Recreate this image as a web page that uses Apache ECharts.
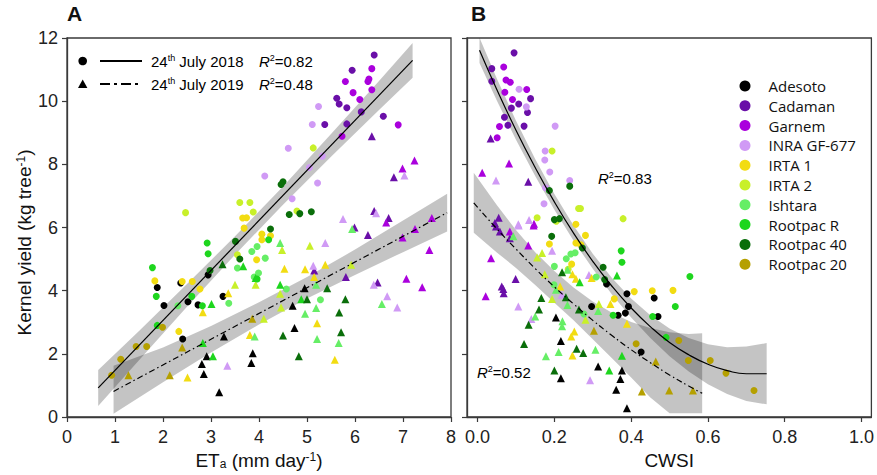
<!DOCTYPE html>
<html><head><meta charset="utf-8">
<script src="https://cdn.jsdelivr.net/npm/echarts@6/dist/echarts.min.js"></script>
<style>html,body{margin:0;padding:0;background:#fff}#c{width:877px;height:475px}</style>
</head><body><div id="c"></div>
<script>
// ---------- data ----------
const cultivars = ['Adesoto','Cadaman','Garnem','INRA GF-677','IRTA 1','IRTA 2','Ishtara','Rootpac R','Rootpac 40','Rootpac 20'];
const cultivarColors = ['#000000','#6a0fa8','#aa00dd','#d09af5','#f2dc12','#c8f02a','#66ee66','#1ed61e','#0a6e0a','#b5a000'];

const etaTicks = [0,1,2,3,4,5,6,7,8];
const yieldTicks = [0,2,4,6,8,10,12];
const cwsiTicks = [0,0.2,0.4,0.6,0.8,1.0];

// Panel A: ETa vs yield, 24th July 2018 (circles)
const etaYield2018 = [
 [6.40,11.46,'Cadaman'],[5.94,10.98,'Cadaman'],[5.62,10.09,'Cadaman'],[5.67,9.91,'Cadaman'],[5.83,9.79,'Cadaman'],[6.13,9.66,'Cadaman'],[6.59,9.52,'Cadaman'],[5.83,9.28,'Cadaman'],[5.37,9.26,'Cadaman'],
 [6.35,11.03,'Garnem'],[5.80,10.62,'Garnem'],[6.27,10.62,'Garnem'],[6.29,10.70,'Garnem'],[6.35,10.36,'Garnem'],[5.96,10.27,'Garnem'],[6.10,10.05,'Garnem'],[6.90,9.25,'Garnem'],[5.73,8.89,'Garnem'],
 [5.11,9.26,'INRA GF-677'],[5.24,9.83,'INRA GF-677'],[4.61,8.51,'INRA GF-677'],[5.32,8.26,'INRA GF-677'],[5.05,7.90,'INRA GF-677'],[4.12,7.63,'INRA GF-677'],[5.22,7.41,'INRA GF-677'],[4.69,6.91,'INRA GF-677'],
 [5.13,8.52,'IRTA 2'],[3.60,6.79,'IRTA 2'],[3.81,6.79,'IRTA 2'],[3.88,6.49,'IRTA 2'],[4.79,6.52,'IRTA 2'],[2.47,6.47,'IRTA 2'],[3.55,5.14,'IRTA 2'],
 [3.74,6.31,'IRTA 1'],[3.66,6.30,'IRTA 1'],[3.69,5.98,'IRTA 1'],[4.06,5.79,'IRTA 1'],[4.24,5.74,'IRTA 1'],[4.06,5.61,'IRTA 1'],[1.83,4.31,'IRTA 1'],[2.40,4.29,'IRTA 1'],[2.61,4.29,'IRTA 1'],[2.77,4.05,'IRTA 1'],[2.33,2.71,'IRTA 1'],[3.95,4.98,'IRTA 1'],
 [4.50,7.45,'Rootpac 40'],[4.46,7.36,'Rootpac 40'],[4.63,6.41,'Rootpac 40'],[4.85,6.44,'Rootpac 40'],[5.09,6.50,'Rootpac 40'],[3.51,5.56,'Rootpac 40'],[3.60,5.00,'Rootpac 40'],[2.98,4.64,'Rootpac 40'],[4.24,5.95,'Rootpac 40'],
 [2.92,5.51,'Rootpac R'],[2.94,5.17,'Rootpac R'],[1.78,4.73,'Rootpac R'],[1.86,3.82,'Rootpac R'],[2.60,3.82,'Rootpac R'],[2.82,3.52,'Rootpac R'],[1.88,2.90,'Rootpac R'],[4.20,5.61,'Rootpac R'],[3.96,4.37,'Rootpac R'],
 [3.55,4.72,'Ishtara'],[3.37,3.60,'Ishtara'],[2.31,3.52,'Ishtara'],[3.96,5.40,'Ishtara'],[4.13,5.03,'Ishtara'],[3.99,4.56,'Ishtara'],[4.57,4.05,'Ishtara'],[5.28,3.71,'Ishtara'],[3.85,5.24,'Ishtara'],[3.90,4.43,'Ishtara'],
 [1.88,4.10,'Adesoto'],[2.02,3.53,'Adesoto'],[2.37,4.24,'Adesoto'],[2.94,4.50,'Adesoto'],[2.52,3.65,'Adesoto'],[2.73,3.55,'Adesoto'],[3.25,3.82,'Adesoto'],[2.41,2.47,'Adesoto'],
 [1.99,2.84,'Rootpac 20'],[1.44,2.23,'Rootpac 20'],[1.66,2.23,'Rootpac 20'],[1.12,1.83,'Rootpac 20'],[0.93,1.32,'Rootpac 20']
];
// Panel A: ETa vs yield, 24th July 2019 (triangles)
const etaYield2019 = [
 [6.35,8.89,'Cadaman'],[6.81,7.59,'Cadaman'],[6.40,6.52,'Cadaman'],[6.70,6.30,'Cadaman'],[5.99,6.00,'Cadaman'],[6.27,5.76,'Cadaman'],[5.15,4.64,'Cadaman'],[5.81,4.43,'Cadaman'],[6.47,4.26,'Cadaman'],
 [7.24,8.12,'Garnem'],[6.99,7.87,'Garnem'],[6.65,6.16,'Garnem'],[6.99,5.68,'Garnem'],[7.25,5.95,'Garnem'],[7.60,6.30,'Garnem'],[7.55,5.29,'Garnem'],[7.07,4.38,'Garnem'],[7.40,4.11,'Garnem'],
 [7.03,7.65,'INRA GF-677'],[6.44,6.45,'INRA GF-677'],[5.75,6.27,'INRA GF-677'],[5.38,5.51,'INRA GF-677'],[5.13,4.79,'INRA GF-677'],[6.39,4.19,'INRA GF-677'],[6.67,3.82,'INRA GF-677'],[6.88,3.47,'INRA GF-677'],[3.34,1.62,'INRA GF-677'],
 [5.94,5.95,'Ishtara'],[4.44,5.51,'Ishtara'],[5.19,4.19,'Ishtara'],[4.96,3.27,'Ishtara'],[5.19,3.45,'Ishtara'],[6.56,3.58,'Ishtara'],[5.21,2.47,'Ishtara'],[5.66,2.34,'Ishtara'],[3.91,2.55,'Ishtara'],
 [4.48,5.29,'IRTA 2'],[5.06,5.42,'IRTA 2'],[5.92,4.82,'IRTA 2'],[4.44,3.90,'IRTA 2'],[4.46,3.47,'IRTA 2'],[4.10,3.11,'IRTA 2'],[3.93,4.19,'IRTA 2'],[3.50,4.19,'IRTA 2'],
 [4.53,4.69,'IRTA 1'],[4.96,4.68,'IRTA 1'],[5.38,4.82,'IRTA 1'],[5.15,4.43,'IRTA 1'],[5.21,2.97,'IRTA 1'],[5.58,1.81,'IRTA 1'],[3.36,3.92,'IRTA 1'],[2.83,3.32,'IRTA 1'],[3.81,2.60,'IRTA 1'],[2.51,1.25,'IRTA 1'],
 [4.44,4.19,'Rootpac R'],[4.88,3.73,'Rootpac R'],[3.67,4.77,'Rootpac R'],[3.93,4.40,'Rootpac R'],[3.01,3.58,'Rootpac R'],[2.83,2.34,'Rootpac R'],[3.04,1.92,'Rootpac R'],
 [5.42,4.08,'Rootpac 40'],[5.00,3.73,'Rootpac 40'],[5.80,3.73,'Rootpac 40'],[5.67,3.31,'Rootpac 40'],[5.71,2.68,'Rootpac 40'],[4.50,2.58,'Rootpac 40'],[4.83,1.92,'Rootpac 40'],[3.24,4.84,'Rootpac 40'],
 [4.95,4.08,'Adesoto'],[4.70,3.52,'Adesoto'],[4.74,2.82,'Adesoto'],[3.27,2.55,'Adesoto'],[2.91,1.92,'Adesoto'],[2.81,1.68,'Adesoto'],[3.87,2.02,'Adesoto'],[3.84,1.71,'Adesoto'],[2.85,1.36,'Adesoto'],[3.17,0.78,'Adesoto'],
 [3.86,3.11,'Rootpac 20'],[2.40,2.20,'Rootpac 20'],[2.14,1.32,'Rootpac 20'],[1.28,1.32,'Rootpac 20']
];
// Panel B: CWSI vs yield, 2018 (circles)
const cwsiYield2018 = [
 [0.095,11.53,'Cadaman'],[0.037,11.03,'Cadaman'],[0.037,10.63,'Cadaman'],[0.138,10.08,'Cadaman'],[0.107,9.91,'Cadaman'],[0.088,9.78,'Cadaman'],[0.130,9.64,'Cadaman'],[0.070,9.49,'Cadaman'],[0.079,9.24,'Cadaman'],[0.121,9.21,'Cadaman'],
 [0.068,11.08,'Garnem'],[0.074,10.67,'Garnem'],[0.085,10.60,'Garnem'],[0.071,10.28,'Garnem'],[0.128,10.37,'Garnem'],[0.091,10.05,'Garnem'],[0.057,9.20,'Garnem'],[0.051,8.84,'Garnem'],
 [0.108,10.38,'INRA GF-677'],[0.127,9.82,'INRA GF-677'],[0.202,9.21,'INRA GF-677'],[0.176,8.42,'INRA GF-677'],[0.175,8.14,'INRA GF-677'],[0.188,7.76,'INRA GF-677'],[0.240,7.49,'INRA GF-677'],[0.177,7.26,'INRA GF-677'],[0.173,6.75,'INRA GF-677'],
 [0.194,8.42,'IRTA 2'],[0.263,6.60,'IRTA 2'],[0.268,6.60,'IRTA 2'],[0.155,6.31,'IRTA 2'],[0.379,6.28,'IRTA 2'],[0.205,6.20,'IRTA 2'],[0.236,4.68,'IRTA 2'],
 [0.240,7.31,'Rootpac 40'],[0.187,7.17,'Rootpac 40'],[0.200,6.25,'Rootpac 40'],[0.213,6.28,'Rootpac 40'],[0.193,5.72,'Rootpac 40'],[0.273,5.35,'Rootpac 40'],[0.327,4.74,'Rootpac 40'],[0.331,4.35,'Rootpac 40'],
 [0.256,6.10,'IRTA 1'],[0.187,5.48,'IRTA 1'],[0.281,5.75,'IRTA 1'],[0.256,5.51,'IRTA 1'],[0.269,5.45,'IRTA 1'],[0.245,4.84,'IRTA 1'],[0.408,3.97,'IRTA 1'],[0.455,4.00,'IRTA 1'],[0.509,4.01,'IRTA 1'],[0.356,3.74,'IRTA 1'],
 [0.374,5.26,'Rootpac R'],[0.376,4.90,'Rootpac R'],[0.553,4.45,'Rootpac R'],[0.515,3.50,'Rootpac R'],[0.353,3.22,'Rootpac R'],[0.456,3.18,'Rootpac R'],[0.491,2.52,'Rootpac R'],
 [0.231,5.01,'Ishtara'],[0.243,5.16,'Ishtara'],[0.254,5.20,'Ishtara'],[0.200,4.77,'Ishtara'],[0.309,4.43,'Ishtara'],[0.277,3.26,'Ishtara'],[0.199,4.19,'Ishtara'],
 [0.336,4.21,'Adesoto'],[0.389,3.90,'Adesoto'],[0.460,3.77,'Adesoto'],[0.393,3.50,'Adesoto'],[0.385,3.29,'Adesoto'],[0.366,3.22,'Adesoto'],[0.297,3.50,'Adesoto'],[0.470,3.18,'Adesoto'],[0.426,2.06,'Adesoto'],
 [0.413,2.32,'Rootpac 20'],[0.524,2.42,'Rootpac 20'],[0.549,1.79,'Rootpac 20'],[0.606,1.79,'Rootpac 20'],[0.647,1.39,'Rootpac 20'],[0.720,0.84,'Rootpac 20']
];
// Panel B: CWSI vs yield, 2019 (triangles)
const cwsiYield2019 = [
 [0.034,8.82,'Cadaman'],[0.132,7.45,'Cadaman'],[0.055,6.31,'Cadaman'],[0.045,6.14,'Cadaman'],[0.048,6.03,'Cadaman'],[0.058,5.87,'Cadaman'],[0.084,5.66,'Cadaman'],[0.099,4.37,'Cadaman'],[0.063,4.13,'Cadaman'],[0.067,4.05,'Cadaman'],[0.068,3.92,'Cadaman'],
 [0.082,8.03,'Garnem'],[0.012,7.73,'Garnem'],[0.147,6.12,'Garnem'],[0.084,5.87,'Garnem'],[0.146,6.06,'Garnem'],[0.132,5.43,'Garnem'],[0.035,5.03,'Garnem'],[0.021,3.82,'Garnem'],
 [0.048,7.49,'INRA GF-677'],[0.106,6.10,'INRA GF-677'],[0.134,6.24,'INRA GF-677'],[0.107,6.06,'INRA GF-677'],[0.194,5.26,'INRA GF-677'],[0.290,4.50,'INRA GF-677'],[0.219,3.87,'INRA GF-677'],[0.106,3.50,'INRA GF-677'],[0.140,3.10,'INRA GF-677'],[0.293,1.16,'INRA GF-677'],
 [0.168,5.19,'IRTA 2'],[0.155,5.05,'IRTA 2'],[0.175,4.52,'IRTA 2'],[0.194,3.74,'IRTA 2'],[0.281,3.08,'IRTA 2'],[0.316,3.58,'IRTA 2'],
 [0.247,4.52,'IRTA 1'],[0.256,4.38,'IRTA 1'],[0.297,4.40,'IRTA 1'],[0.215,4.13,'IRTA 1'],[0.252,2.71,'IRTA 1'],[0.244,2.55,'IRTA 1'],[0.346,3.58,'IRTA 1'],[0.389,2.95,'IRTA 1'],[0.247,1.95,'IRTA 1'],
 [0.093,5.72,'Ishtara'],[0.234,4.66,'Ishtara'],[0.204,4.03,'Ishtara'],[0.234,3.55,'Ishtara'],[0.150,3.18,'Ishtara'],[0.221,3.03,'Ishtara'],[0.220,2.87,'Ishtara'],[0.314,3.36,'Ishtara'],[0.211,2.06,'Ishtara'],[0.178,1.92,'Ishtara'],[0.307,2.13,'Ishtara'],
 [0.266,4.27,'Rootpac R'],[0.363,4.48,'Rootpac R'],[0.376,1.94,'Rootpac R'],[0.343,1.47,'Rootpac R'],
 [0.220,4.58,'Rootpac 40'],[0.166,3.77,'Rootpac 40'],[0.230,3.79,'Rootpac 40'],[0.264,3.40,'Rootpac 40'],[0.160,3.40,'Rootpac 40'],[0.133,2.92,'Rootpac 40'],[0.258,2.16,'Rootpac 40'],[0.121,2.31,'Rootpac 40'],[0.275,2.03,'Rootpac 40'],[0.200,1.47,'Rootpac 40'],
 [0.204,3.15,'Adesoto'],[0.217,2.41,'Adesoto'],[0.217,1.23,'Adesoto'],[0.314,1.60,'Adesoto'],[0.376,1.47,'Adesoto'],[0.372,1.20,'Adesoto'],[0.361,0.86,'Adesoto'],[0.389,0.28,'Adesoto'],
 [0.303,2.73,'Rootpac 20'],[0.428,0.81,'Rootpac 20'],[0.464,1.76,'Rootpac 20'],[0.499,0.84,'Rootpac 20'],[0.561,0.84,'Rootpac 20']
];

// Regression lines and 95% confidence bands: [x, y] and [x, lower, upper]
const etaFit2018 = [[0.65,0.92],[7.20,11.29]];
const etaFit2019 = [[0.97,0.81],[7.92,6.47]];
const etaBand2018 = [[0.65,0.35,1.49],[1.5,1.80,2.72],[2.5,3.49,4.21],[3.5,5.14,5.72],[4.5,6.72,7.30],[5.5,8.24,8.96],[6.5,9.72,10.64],[7.2,10.74,11.84]];
const etaBand2019 = [[0.97,0.10,1.62],[2,1.10,2.20],[3,2.04,2.88],[4,2.93,3.63],[5,3.75,4.43],[6,4.50,5.30],[7,5.22,6.22],[7.92,5.87,7.07]];
const cwsiFit2018 = [[0.005,11.61],[0.05,10.37],[0.1,9.08],[0.15,7.90],[0.2,6.81],[0.25,5.82],[0.3,4.93],[0.35,4.14],[0.4,3.45],[0.45,2.86],[0.5,2.36],[0.55,1.97],[0.6,1.67],[0.65,1.47],[0.7,1.37],[0.753,1.37]];
const cwsiFit2019 = [[-0.01,6.78],[0.05,5.96],[0.1,5.32],[0.15,4.70],[0.2,4.12],[0.25,3.58],[0.3,3.06],[0.35,2.58],[0.4,2.13],[0.45,1.72],[0.5,1.33],[0.55,0.98],[0.585,0.75]];
const cwsiBand2018 = [[0.005,11.21,12.01],[0.05,10.02,10.72],[0.1,8.78,9.38],[0.15,7.63,8.17],[0.2,6.56,7.06],[0.25,5.58,6.06],[0.3,4.69,5.17],[0.35,3.88,4.40],[0.4,3.15,3.75],[0.45,2.50,3.22],[0.5,1.92,2.80],[0.55,1.44,2.50],[0.6,1.04,2.30],[0.65,0.73,2.21],[0.7,0.51,2.23],[0.753,0.40,2.34]];
const cwsiBand2019 = [[-0.01,5.83,7.73],[0.05,5.21,6.71],[0.1,4.72,5.92],[0.15,4.18,5.22],[0.2,3.62,4.62],[0.25,3.06,4.10],[0.3,2.46,3.66],[0.35,1.86,3.30],[0.4,1.25,3.01],[0.45,0.62,2.82],[0.5,0.12,2.68],[0.55,0.12,2.63],[0.585,0.12,2.65]];

// ---------- chart ----------
const NARROW = "'Liberation Sans Narrow','Arial Narrow','Liberation Sans',Arial,sans-serif";
const SANS = "'Liberation Sans',Arial,sans-serif";
const AXC = '#3a3a3a';
const chart = echarts.init(document.getElementById('c'), null, {renderer: 'svg'});

function scatter(points, cult, gi, symbol, size) {
  return {
    type: 'scatter', name: cult, xAxisIndex: gi, yAxisIndex: gi,
    symbol: symbol, symbolSize: size, z: 3, silent: true,
    itemStyle: {color: cultivarColors[cultivars.indexOf(cult)], opacity: 1},
    data: points.filter(p => p[2] === cult).map(p => [p[0], p[1]])
  };
}
function band(b, gi) {
  return {
    type: 'custom', xAxisIndex: gi, yAxisIndex: gi, silent: true, z: 1, clip: true,
    data: [0],
    renderItem: (params, api) => {
      const up = b.map(r => api.coord([r[0], r[2]]));
      const lo = b.slice().reverse().map(r => api.coord([r[0], r[1]]));
      return {type: 'polygon', shape: {points: up.concat(lo)}, style: {fill: 'rgba(0,0,0,0.23)'}};
    }
  };
}
function fit(pts, gi, dash) {
  return {
    type: 'line', xAxisIndex: gi, yAxisIndex: gi, data: pts, symbol: 'none', smooth: pts.length > 2,
    silent: true, z: 4, lineStyle: {color: '#000', width: 1.2, type: dash ? [6, 3, 1.5, 3] : 'solid'}
  };
}

const series = [
  band(etaBand2018, 0), band(etaBand2019, 0), band(cwsiBand2018, 1), band(cwsiBand2019, 1)
];
cultivars.forEach(c => {
  series.push(scatter(etaYield2018, c, 0, 'circle', 7));
  series.push(scatter(etaYield2019, c, 0, 'triangle', 8));
  series.push(scatter(cwsiYield2018, c, 1, 'circle', 7));
  series.push(scatter(cwsiYield2019, c, 1, 'triangle', 8));
});
series.push(fit(etaFit2018, 0, false), fit(etaFit2019, 0, true), fit(cwsiFit2018, 1, false), fit(cwsiFit2019, 1, true));

const richLbl = (size, fam) => ({
  n: {fontSize: size, fontFamily: fam, color: '#111'},
  s: {fontSize: Math.round(size * 0.62), fontFamily: fam, color: '#111', verticalAlign: 'top'},
  b: {fontSize: Math.round(size * 0.62), fontFamily: fam, color: '#111', verticalAlign: 'bottom'},
  i: {fontSize: size, fontFamily: fam, color: '#111', fontStyle: 'italic'}
});

const axisCommon = {
  axisLine: {show: true, onZero: false, lineStyle: {color: AXC, width: 1.3}},
  axisTick: {show: true, inside: false, length: 5, lineStyle: {color: AXC, width: 1.2}},
  splitLine: {show: false}
};

const option = {
  animation: false,
  backgroundColor: '#fff',
  title: [
    {text: 'A', left: 67, top: 3, padding: 0, textStyle: {fontSize: 21, fontWeight: 'bold', fontFamily: SANS, color: '#111'}},
    {text: 'B', left: 471, top: 3, padding: 0, textStyle: {fontSize: 21, fontWeight: 'bold', fontFamily: SANS, color: '#111'}}
  ],
  grid: [
    {left: 67, top: 38, width: 384, height: 379, show: true, borderColor: AXC, borderWidth: 1.3, backgroundColor: 'transparent'},
    {left: 467, top: 38, width: 409, height: 379, show: true, borderColor: AXC, borderWidth: 1.3, backgroundColor: 'transparent'}
  ],
  xAxis: [
    Object.assign({}, axisCommon, {
      type: 'value', gridIndex: 0, min: etaTicks[0], max: etaTicks[etaTicks.length - 1], interval: 1,
      axisLabel: {fontSize: 18, fontFamily: NARROW, color: '#222', margin: 11},
      name: '{n|ET}{b|a}{n| (mm day}{s|-1}{n|)}', nameLocation: 'middle', nameGap: 33,
      nameTextStyle: {rich: richLbl(19, NARROW)}
    }),
    Object.assign({}, axisCommon, {
      type: 'value', gridIndex: 1, min: -0.0276, max: 1.0258,
      axisTick: Object.assign({}, axisCommon.axisTick, {customValues: cwsiTicks}),
      axisLabel: {fontSize: 18, fontFamily: NARROW, color: '#222', margin: 11, customValues: cwsiTicks,
        formatter: v => v.toFixed(1)},
      name: 'CWSI', nameLocation: 'middle', nameGap: 33,
      nameTextStyle: {fontSize: 19, fontFamily: NARROW, color: '#111'}
    })
  ],
  yAxis: [
    Object.assign({}, axisCommon, {
      type: 'value', gridIndex: 0, min: yieldTicks[0], max: yieldTicks[yieldTicks.length - 1], interval: 2,
      axisLabel: {fontSize: 18, fontFamily: NARROW, color: '#222', margin: 9},
      name: '{n|Kernel yield (kg tree}{s|-1}{n|)}', nameLocation: 'middle', nameGap: 28,
      nameTextStyle: {rich: richLbl(19, SANS), padding: [0, 30, 0, 0]}
    }),
    Object.assign({}, axisCommon, {
      type: 'value', gridIndex: 1, min: yieldTicks[0], max: yieldTicks[yieldTicks.length - 1], interval: 2,
      axisLabel: {show: false}
    })
  ],
  legend: {
    data: cultivars, orient: 'vertical', left: 739.5, top: 78.5, padding: 0, icon: 'circle',
    itemWidth: 11, itemHeight: 11, itemGap: 4.8, selectedMode: false,
    textStyle: {fontSize: 15, fontFamily: "'Open Sans','Noto Sans',sans-serif", color: '#111', padding: [0, 0, 0, 13]}
  },
  graphic: [
    {type: 'circle', shape: {cx: 82.7, cy: 61, r: 4.3}, style: {fill: '#000'}},
    {type: 'line', shape: {x1: 100, y1: 61, x2: 142, y2: 61}, style: {stroke: '#000', lineWidth: 2}},
    {type: 'text', x: 151, y: 61, style: {text: '{n|24}{s|th}{n| July 2018}', rich: richLbl(15, SANS), verticalAlign: 'middle'}},
    {type: 'text', x: 259, y: 61, style: {text: '{i|R}{s|2}{n|=0.82}', rich: richLbl(15, SANS), verticalAlign: 'middle'}},
    {type: 'polygon', shape: {points: [[82.7, 79.5], [78, 88], [87.4, 88]]}, style: {fill: '#000'}},
    {type: 'line', shape: {x1: 100, y1: 84, x2: 142, y2: 84}, style: {stroke: '#000', lineWidth: 2, lineDash: [10, 4, 3, 4]}},
    {type: 'text', x: 151, y: 84, style: {text: '{n|24}{s|th}{n| July 2019}', rich: richLbl(15, SANS), verticalAlign: 'middle'}},
    {type: 'text', x: 259, y: 84, style: {text: '{i|R}{s|2}{n|=0.48}', rich: richLbl(15, SANS), verticalAlign: 'middle'}},
    {type: 'text', x: 598, y: 178, style: {text: '{i|R}{s|2}{n|=0.83}', rich: richLbl(15, SANS), verticalAlign: 'middle'}},
    {type: 'text', x: 477, y: 372, style: {text: '{i|R}{s|2}{n|=0.52}', rich: richLbl(15, SANS), verticalAlign: 'middle'}}
  ],
  series: series
};
chart.setOption(option);
</script>
</body></html>
